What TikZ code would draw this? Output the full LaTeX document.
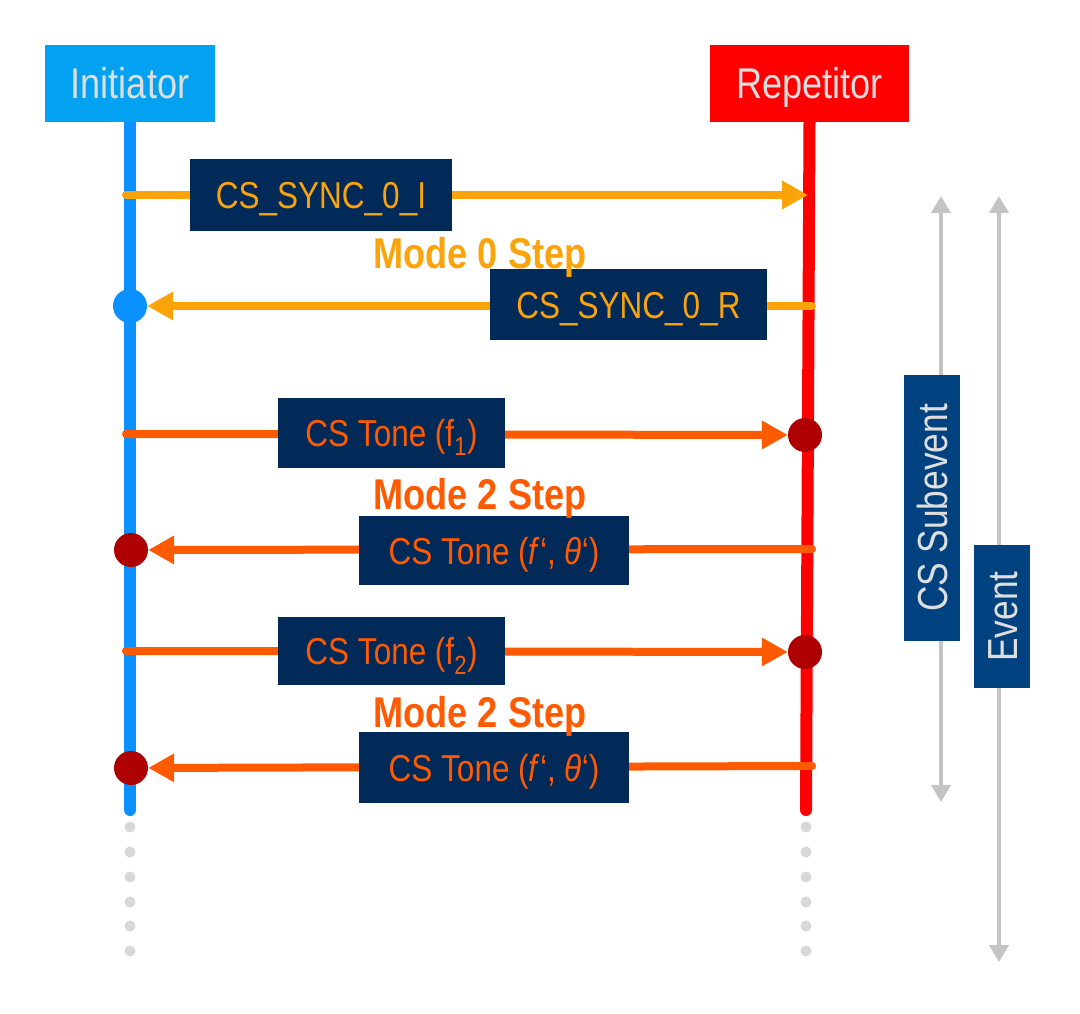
\documentclass[tikz,border=0pt]{standalone}
\usepackage{fontspec}
\setmainfont[FakeStretch=0.84]{Liberation Sans}
\usetikzlibrary{arrows.meta,backgrounds}
\definecolor{initblue}{HTML}{03A1F1}
\definecolor{lifeblue}{HTML}{0A90FF}
\definecolor{repred}{HTML}{FF0000}
\definecolor{syncorange}{HTML}{FBA40A}
\definecolor{toneorange}{HTML}{FF5A00}
\definecolor{darkdot}{HTML}{AE0000}
\definecolor{navy}{HTML}{022A58}
\definecolor{subnavy}{HTML}{00427F}
\definecolor{lightgrey}{HTML}{DEDEDE}
\definecolor{arrowgrey}{HTML}{C4C4C4}
\definecolor{dotgrey}{HTML}{D8D8D8}
\begin{document}
\begin{tikzpicture}[x=1pt,y=-1pt,
  titlebox/.style={inner sep=0pt, minimum height=77pt, text=lightgrey,
    text height=31pt, text depth=0pt, font=\fontsize{43}{50}\selectfont},
  lifeline/.style={line width=12pt, line cap=round},
  labelbox/.style={fill=navy, inner sep=0pt, text height=27pt, text depth=0pt,
    font=\fontsize{37.5}{44}\selectfont},
  synclabel/.style={labelbox, text=syncorange},
  tonelabel/.style={labelbox, text=toneorange},
  modetext/.style={anchor=base, inner sep=0pt, font=\bfseries\fontsize{43}{49}\selectfont},
  syncarrow/.style={line width=8pt, draw=syncorange, line cap=round,
    -{Triangle[length=26pt,width=27pt]}},
  tonearrow/.style={line width=8pt, draw=toneorange, line cap=round,
    -{Triangle[length=26pt,width=27pt]}},
  bigdot/.style={circle, inner sep=0pt, minimum size=34pt},
  greydot/.style={circle, fill=dotgrey, inner sep=0pt, minimum size=11pt},
  spanarrow/.style={line width=4pt, draw=arrowgrey,
    {Triangle[length=17pt,width=19pt]}-{Triangle[length=17pt,width=19pt]}},
  spanbox/.style={fill=subnavy, inner sep=0pt, rotate=90, minimum height=56pt,
    text height=30pt, text depth=0pt,
    text=lightgrey, font=\fontsize{42}{48}\selectfont}
]
\useasboundingbox (0,0) rectangle (1080,1014);

% participants
\node[titlebox, fill=initblue, minimum width=170pt] (init) at (130,83.5) {Initiator};
\node[titlebox, fill=repred, minimum width=199pt] (rep) at (809.5,83.5) {Repetitor};

\coordinate (iend) at (130,810);
\coordinate (rend) at (806,810);

% continuation dots
\foreach \y [count=\k] in {827,852,877,902,926,951} {
  \node[greydot] (idot\k) at (130,\y) {};
  \node[greydot] (rdot\k) at (806,\y) {};
}

% end points of the messages
\coordinate (s1) at (126,195);
\coordinate (t1) at (808,195);
\coordinate (s2) at (812,306);
\node[bigdot, fill=lifeblue] (bd) at (130,306) {};
\coordinate (s3) at (126,434);
\node[bigdot, fill=darkdot] (rd1) at (805,435) {};
\coordinate (s4) at (812,549);
\node[bigdot, fill=darkdot] (id1) at (131,550) {};
\coordinate (s5) at (126,651);
\node[bigdot, fill=darkdot] (rd2) at (805,652) {};
\coordinate (s6) at (812,766);
\node[bigdot, fill=darkdot] (id2) at (131,768) {};

% message labels
\node[synclabel, minimum width=262pt, minimum height=72pt] (m1) at (321,195) {CS\_SYNC\_0\_I};
\node[synclabel, minimum width=277pt, minimum height=71pt] (m2) at (628.5,304.5) {CS\_SYNC\_0\_R};
\node[tonelabel, minimum width=227pt, minimum height=70pt] (m3) at (391.5,433) {CS Tone (f\textsubscript{1})};
\node[tonelabel, minimum width=270pt, minimum height=69pt] (m4) at (494,550.5) {CS Tone (\textit{f}‘, \textit{θ}‘)};
\node[tonelabel, minimum width=227pt, minimum height=68pt] (m5) at (391.5,651) {CS Tone (f\textsubscript{2})};
\node[tonelabel, minimum width=270pt, minimum height=71pt] (m6) at (494,767.5) {CS Tone (\textit{f}‘, \textit{θ}‘)};

% step captions
\node[modetext, text=syncorange] (mode0) at (480,268) {Mode 0 Step};
\node[modetext, text=toneorange] (mode2a) at (480,509) {Mode 2 Step};
\node[modetext, text=toneorange] (mode2b) at (480,727) {Mode 2 Step};

% span markers
\coordinate (sa) at (941,196);
\coordinate (sb) at (941,802);
\coordinate (ea) at (999,196);
\coordinate (eb) at (999,962);
\node[spanbox, minimum width=266pt] (sub) at (932,508) {CS Subevent};
\node[spanbox, minimum width=143pt] (ev) at (1002,616.5) {Event};

\begin{pgfonlayer}{background}
  \fill[white] (0,0) rectangle (1080,1014);
  \draw[lifeline, lifeblue] (init.south) -- (iend);
  \draw[lifeline, repred] (rep.south) -- (rend);
  \draw[syncarrow] (s1) -- (t1);
  \draw[syncarrow] (s2) -- (bd);
  \draw[tonearrow] (s3) -- (rd1);
  \draw[tonearrow] (s4) -- (id1);
  \draw[tonearrow] (s5) -- (rd2);
  \draw[tonearrow] (s6) -- (id2);
  \draw[spanarrow] (sa) -- (sb);
  \draw[spanarrow] (ea) -- (eb);
\end{pgfonlayer}
\end{tikzpicture}
\end{document}
